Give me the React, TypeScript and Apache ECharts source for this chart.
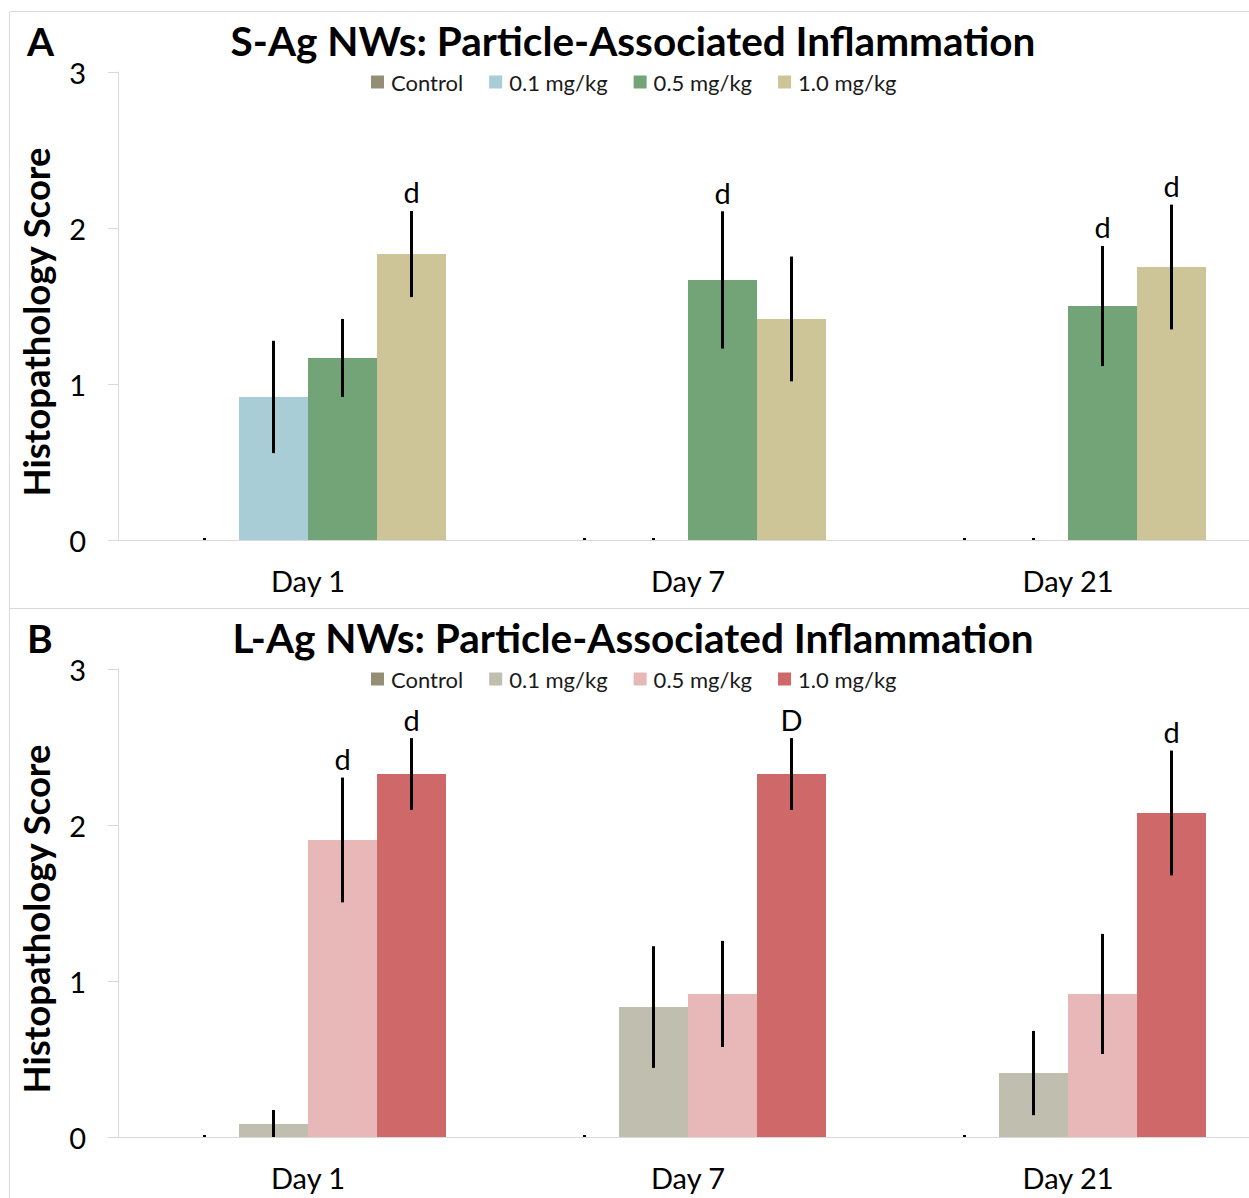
import React, { useEffect, useRef } from "react";
import * as echarts from "echarts";

const categories = ["Day 1", "Day 7", "Day 21"];
const seriesNames = ["Control", "0.1 mg/kg", "0.5 mg/kg", "1.0 mg/kg"];
const yTicks = [0, 1, 2, 3];

// Panel A: S-Ag NWs (per series, per day)
const sAgControl = [0, 0, 0];
const sAg01 = [0.917, 0, 0];
const sAg05 = [1.167, 1.667, 1.5];
const sAg10 = [1.833, 1.417, 1.75];
const sAgControlErr = [0, 0, 0];
const sAg01Err = [0.36, 0, 0];
const sAg05Err = [0.25, 0.44, 0.385];
const sAg10Err = [0.276, 0.4, 0.4];
const sAgLetters = [
  ["", "", ""],
  ["", "", ""],
  ["", "d", "d"],
  ["d", "", "d"],
];

// Panel B: L-Ag NWs
const lAgControl = [0, 0, 0];
const lAg01 = [0.083, 0.833, 0.41];
const lAg05 = [1.904, 0.917, 0.917];
const lAg10 = [2.327, 2.327, 2.077];
const lAgControlErr = [0, 0, 0];
const lAg01Err = [0.09, 0.39, 0.27];
const lAg05Err = [0.4, 0.34, 0.385];
const lAg10Err = [0.23, 0.23, 0.4];
const lAgLetters = [
  ["", "", ""],
  ["", "", ""],
  ["d", "", ""],
  ["d", "D", "d"],
];

const colorsA = ["#948e76", "#a9cdd6", "#72a478", "#cdc597"];
const colorsB = ["#948e76", "#c0bfaf", "#e8b7b8", "#cf6868"];

const FONT = "Lato, 'Open Sans', sans-serif";
const BAR_W = 69;
const AXIS_COLOR = "#d9d9d9";

type PanelCfg = {
  letter: string;
  title: string;
  values: number[][];
  errs: number[][];
  letters: string[][];
  colors: string[];
  offsetTop: number;
  borderY: number;
};

function buildOption(p: PanelCfg) {
  const o = p.offsetTop;
  const gridTop = 72 + o;
  const gridH = 468;
  const items: { c: number; m: number; e: number; s: number; t: string }[] = [];
  p.values.forEach((vals, s) => {
    vals.forEach((m, c) => {
      items.push({ c, m, e: p.errs[s][c], s, t: p.letters[s][c] });
    });
  });

  const barSeries = p.values.map((vals, s) => ({
    type: "bar",
    name: seriesNames[s],
    data: vals,
    barWidth: BAR_W,
    barGap: "0%",
    itemStyle: { color: p.colors[s] },
    silent: true,
  }));

  const errSeries = {
    type: "custom",
    name: "err",
    silent: true,
    z: 5,
    data: items.map((it) => [it.c, it.m, it.e, it.s]),
    renderItem: (params: any, api: any) => {
      const it = items[params.dataIndex];
      const topPt = api.coord([it.c, it.m + it.e]);
      const botPt = api.coord([it.c, Math.max(0, it.m - it.e)]);
      const x = topPt[0] + (it.s - 1.5) * BAR_W;
      let y1 = topPt[1];
      let h = botPt[1] - topPt[1];
      if (h < 2) {
        y1 = botPt[1] - 2;
        h = 2;
      }
      const children: any[] = [
        {
          type: "rect",
          shape: { x: x - 1.5, y: y1, width: 3, height: h },
          style: { fill: "#000" },
        },
      ];
      if (it.t) {
        children.push({
          type: "text",
          style: {
            x: x,
            y: topPt[1] - 19,
            text: it.t,
            fill: "#000",
            font: `29px ${FONT}`,
            align: "center",
            verticalAlign: "middle",
          },
        });
      }
      return { type: "group", children };
    },
  };

  return {
    animation: false,
    textStyle: { fontFamily: FONT },
    legend: {
      data: seriesNames,
      left: 371,
      top: 83 + o - 12,
      padding: 0,
      itemWidth: 13,
      itemHeight: 13,
      itemGap: 26,
      icon: "rect",
      selectedMode: false,
      textStyle: { fontSize: 22, color: "#1a1a1a", fontFamily: FONT, padding: [0, 0, 0, 2] },
    },
    grid: { left: 118, top: gridTop, width: 1140, height: gridH, containLabel: false },
    xAxis: {
      type: "category",
      data: categories,
      axisLine: { show: true, lineStyle: { color: AXIS_COLOR, width: 1 } },
      axisTick: { show: false },
      axisLabel: { fontSize: 29, color: "#000", margin: 26, fontFamily: FONT },
    },
    yAxis: {
      type: "value",
      min: yTicks[0],
      max: yTicks[yTicks.length - 1],
      interval: 1,
      axisLine: { show: true, lineStyle: { color: AXIS_COLOR, width: 1 } },
      axisTick: { show: true, length: 10, lineStyle: { color: AXIS_COLOR } },
      splitLine: { show: false },
      axisLabel: { fontSize: 29, color: "#000", margin: 32, fontFamily: FONT },
    },
    graphic: [
      {
        type: "rect",
        silent: true,
        shape: { x: 9.5, y: p.borderY + 0.5, width: 1400, height: 1400 },
        style: { fill: "none", stroke: AXIS_COLOR, lineWidth: 1 },
        z: -10,
      },
      {
        type: "text",
        silent: true,
        x: 27,
        y: 41 + o,
        style: {
          text: p.letter,
          font: `bold 39px ${FONT}`,
          fill: "#000",
          align: "left",
          verticalAlign: "middle",
        },
      },
      {
        type: "text",
        silent: true,
        x: 633,
        y: 40 + o,
        style: {
          text: p.title,
          font: `bold 40.5px ${FONT}`,
          fill: "#000",
          align: "center",
          verticalAlign: "middle",
        },
      },
      {
        type: "text",
        silent: true,
        x: 36,
        y: gridTop + gridH / 2 + 16,
        rotation: Math.PI / 2,
        style: {
          text: "Histopathology Score",
          font: `bold 36.5px ${FONT}`,
          fill: "#000",
          align: "center",
          verticalAlign: "middle",
        },
      },
    ],
    series: [...barSeries, errSeries],
  };
}

function Panel({ cfg, height }: { cfg: PanelCfg; height: number }) {
  const ref = useRef<HTMLDivElement>(null);
  useEffect(() => {
    if (!ref.current) return;
    const chart = echarts.init(ref.current, undefined, { renderer: "svg" });
    chart.setOption(buildOption(cfg) as any);
    return () => chart.dispose();
  }, [cfg]);
  return (
    <div style={{ width: 1249, height, overflow: "hidden", position: "relative" }}>
      <div ref={ref} style={{ width: 1270, height }} />
    </div>
  );
}

const cfgA: PanelCfg = {
  letter: "A",
  title: "S-Ag NWs: Particle-Associated Inflammation",
  values: [sAgControl, sAg01, sAg05, sAg10],
  errs: [sAgControlErr, sAg01Err, sAg05Err, sAg10Err],
  letters: sAgLetters,
  colors: colorsA,
  offsetTop: 0,
  borderY: 11,
};

const cfgB: PanelCfg = {
  letter: "B",
  title: "L-Ag NWs: Particle-Associated Inflammation",
  values: [lAgControl, lAg01, lAg05, lAg10],
  errs: [lAgControlErr, lAg01Err, lAg05Err, lAg10Err],
  letters: lAgLetters,
  colors: colorsB,
  offsetTop: -11,
  borderY: 0,
};

export default function App() {
  useEffect(() => {
    document.body.style.margin = "0";
  }, []);
  return (
    <div style={{ width: 1249, height: 1198, background: "#fff", overflow: "hidden" }}>
      <Panel cfg={cfgA} height={608} />
      <Panel cfg={cfgB} height={590} />
    </div>
  );
}
